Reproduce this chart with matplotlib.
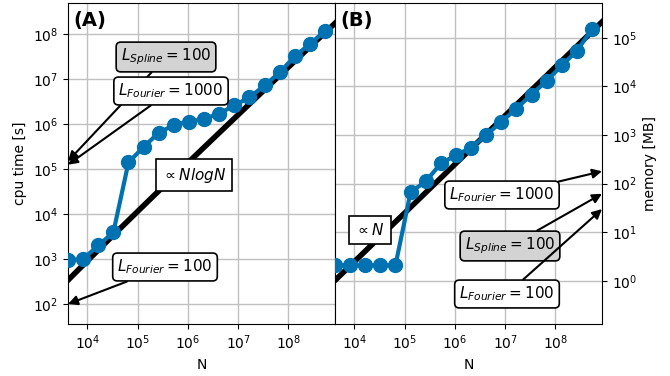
import numpy as np
import matplotlib
matplotlib.use("Agg")
import matplotlib.pyplot as plt

# Data
exponents = list(range(12, 30))
N = [2.0 ** k for k in exponents]
cpu_time = [950, 1000, 2000, 3900, 1.4e5, 3.1e5, 6.4e5, 9.5e5, 1.13e6, 1.3e6,
            1.7e6, 2.6e6, 3.9e6, 7.2e6, 1.4e7, 3.2e7, 6.0e7, 1.17e8]
memory = [2.1, 2.1, 2.1, 2.1, 2.1, 67, 111, 260, 385, 550,
          1000, 1870, 3500, 6800, 1.3e4, 2.7e4, 5.4e4, 1.5e5]
N_ref = [2.0 ** k for k in np.arange(11, 31, 0.5)]
nlogn_coef = 0.0069
n_coef = 2.5e-4

blue = "#0072B2"
fs = 10
afs = 11

fig = plt.figure(figsize=(6.7, 3.76), dpi=100)
axA = fig.add_axes([68 / 670, 52 / 376, 267 / 670, 321 / 376])
axB = fig.add_axes([335 / 670, 52 / 376, 267 / 670, 321 / 376])

xlim = (4096, 8.5e8)

# Panel A
ref_a = [nlogn_coef * n * np.log2(n) for n in N_ref]
axA.plot(N_ref, ref_a, color="black", lw=4, zorder=2)
axA.plot(N, cpu_time, color=blue, lw=3, marker="o", ms=10, zorder=3)
axA.set_xscale("log")
axA.set_yscale("log")
axA.set_xlim(*xlim)
axA.set_ylim(36, 4.9e8)
axA.grid(True, color="#c0c0c0", lw=1)
axA.set_axisbelow(True)
axA.set_xticks([1e4, 1e5, 1e6, 1e7, 1e8])
axA.set_yticks([1e2, 1e3, 1e4, 1e5, 1e6, 1e7, 1e8])
axA.minorticks_off()
axA.tick_params(labelsize=fs)
axA.set_xlabel("N", fontsize=fs)
axA.set_ylabel("cpu time [s]", fontsize=fs)
axA.text(0.02, 0.975, "(A)", transform=axA.transAxes, fontsize=14,
         fontweight="bold", va="top", ha="left")

round_white = dict(boxstyle="round,pad=0.3", fc="white", ec="black", lw=1.2)
round_gray = dict(boxstyle="round,pad=0.3", fc="#d3d3d3", ec="black", lw=1.2)
square_white = dict(boxstyle="square,pad=0.4", fc="white", ec="black", lw=1.2)
arrow = dict(arrowstyle="-|>", color="black", lw=1.5, mutation_scale=14,
             shrinkA=0, shrinkB=0)

def fig_px(x, y):
    return (x / 670, 1 - y / 376)

axA.annotate(r"$L_{Spline} = 100$", xy=(4096, 1.5e5), xycoords="data",
             xytext=fig_px(166, 57), textcoords="figure fraction",
             ha="center", va="center", fontsize=afs, bbox=round_gray,
             arrowprops=arrow, zorder=5)
axA.annotate(r"$L_{Fourier} = 1000$", xy=(4096, 1.25e5), xycoords="data",
             xytext=fig_px(171, 91), textcoords="figure fraction",
             ha="center", va="center", fontsize=afs, bbox=round_white,
             arrowprops=arrow, zorder=5)
axA.annotate(r"$L_{Fourier} = 100$", xy=(4096, 100), xycoords="data",
             xytext=fig_px(165, 267), textcoords="figure fraction",
             ha="center", va="center", fontsize=afs, bbox=round_white,
             arrowprops=arrow, zorder=5)
axA.text(*fig_px(194, 175), r"$\propto NlogN$", transform=fig.transFigure,
         ha="center", va="center", fontsize=afs, bbox=square_white, zorder=5)

# Panel B
ref_b = [n_coef * n for n in N_ref]
axB.plot(N_ref, ref_b, color="black", lw=4, zorder=2)
axB.plot(N, memory, color=blue, lw=3, marker="o", ms=10, zorder=3)
axB.set_xscale("log")
axB.set_yscale("log")
axB.set_xlim(*xlim)
axB.set_ylim(0.13, 5.2e5)
axB.grid(True, color="#c0c0c0", lw=1)
axB.set_axisbelow(True)
axB.set_xticks([1e4, 1e5, 1e6, 1e7, 1e8])
axB.set_yticks([1e0, 1e1, 1e2, 1e3, 1e4, 1e5])
axB.minorticks_off()
axB.yaxis.tick_right()
axB.yaxis.set_label_position("right")
axB.tick_params(labelsize=fs)
axB.set_xlabel("N", fontsize=fs)
axB.set_ylabel("memory [MB]", fontsize=fs)
axB.text(0.02, 0.975, "(B)", transform=axB.transAxes, fontsize=14,
         fontweight="bold", va="top", ha="left")

axB.annotate(r"$L_{Fourier} = 1000$", xy=(8.5e8, 180), xycoords="data",
             xytext=fig_px(502, 195), textcoords="figure fraction",
             ha="center", va="center", fontsize=afs, bbox=round_white,
             arrowprops=arrow, zorder=5, annotation_clip=False)
axB.annotate(r"$L_{Spline} = 100$", xy=(8.5e8, 62), xycoords="data",
             xytext=fig_px(510, 246), textcoords="figure fraction",
             ha="center", va="center", fontsize=afs, bbox=round_gray,
             arrowprops=arrow, zorder=5, annotation_clip=False)
axB.annotate(r"$L_{Fourier} = 100$", xy=(8.5e8, 30), xycoords="data",
             xytext=fig_px(507, 294), textcoords="figure fraction",
             ha="center", va="center", fontsize=afs, bbox=round_white,
             arrowprops=arrow, zorder=5, annotation_clip=False)
axB.text(*fig_px(370, 230), r"$\propto N$", transform=fig.transFigure,
         ha="center", va="center", fontsize=afs, bbox=square_white, zorder=5)

fig.savefig("out.png", dpi=100)
